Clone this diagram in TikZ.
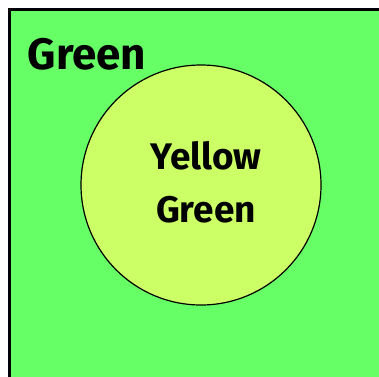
\documentclass[tikz,border=0pt]{standalone}
\usepackage{fontspec}
\setmainfont{Fira Sans}
\definecolor{bggreen}{HTML}{66FF66}
\definecolor{yg}{HTML}{CCFF66}
\tikzset{lbl/.style={font=\bfseries\fontsize{44}{46}\selectfont, align=center, inner sep=0pt}}
\begin{document}
\begin{tikzpicture}[x=1pt,y=1pt]
\useasboundingbox (0,0) rectangle (379,376);
\clip (0,0) rectangle (379,376);
\draw[line width=3pt, fill=bggreen] (9,-20) rectangle (400,367);
\node[circle, draw=black, line width=1.2pt, fill=yg, minimum size=240pt, inner sep=0pt] (circ) at (201,191) {};
\node[lbl] (outer) at (87,322) {Green};
\node[lbl, font=\bfseries\fontsize{37}{53}\selectfont] (inner) at (206,194) {Yellow\\Green};
\end{tikzpicture}
\end{document}
